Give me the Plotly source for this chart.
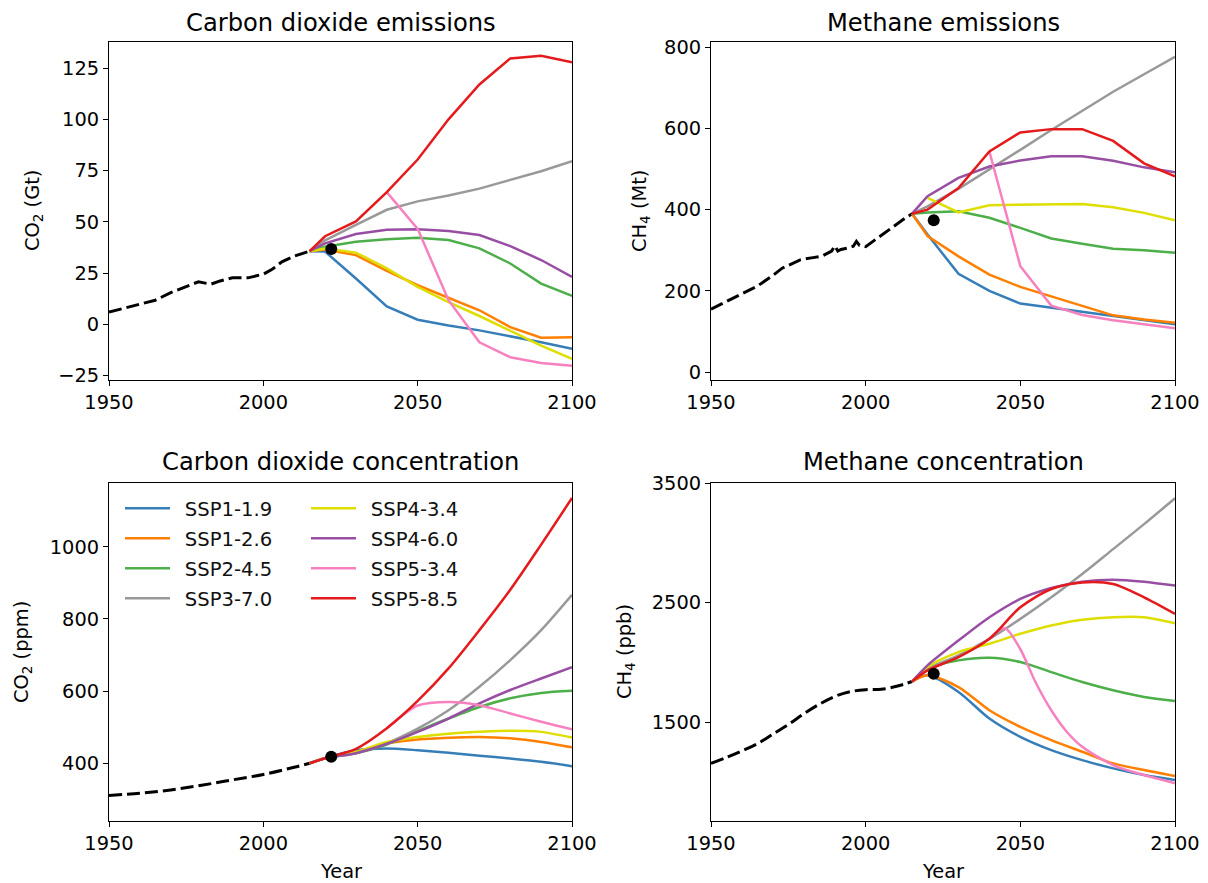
import plotly.graph_objects as go

# page body has an 8px margin: figure is drawn 8px in, so size it to fit
OFF = 8
W, H = 1208 - OFF, 883 - OFF
FONT = "DejaVu Sans"
TICK = 19.4
TITLE = 24.2

scenarios = ["SSP1-1.9", "SSP1-2.6", "SSP2-4.5", "SSP3-7.0",
             "SSP4-3.4", "SSP4-6.0", "SSP5-3.4", "SSP5-8.5"]
colors = ["#377eb8", "#ff7f00", "#4daf4a", "#999999",
          "#dede00", "#984ea3", "#f781bf", "#e41a1c"]

# ---------------- CO2 emissions (Gt) ----------------
co2e_hist_years = [1950, 1955, 1960, 1965, 1970, 1975, 1979, 1983, 1986, 1990,
                   1995, 2000, 2003, 2006, 2010, 2015]
co2e_hist = [6.0, 8.0, 9.8, 11.8, 15.5, 18.3, 20.8, 19.6, 21.2, 22.7,
             22.7, 24.5, 27.0, 30.5, 33.3, 35.7]
scen_years = [2015, 2020, 2030, 2040, 2050, 2060, 2070, 2080, 2090, 2100]
co2e = {
    "SSP1-1.9": [35.7, 35.5, 22.4, 8.8, 2.3, -0.5, -2.9, -5.7, -8.7, -11.9],
    "SSP1-2.6": [35.7, 36.5, 33.8, 26.1, 19.1, 12.9, 6.9, -1.3, -6.5, -6.2],
    "SSP2-4.5": [35.7, 37.9, 40.3, 41.5, 42.3, 41.2, 37.1, 29.7, 19.9, 13.9],
    "SSP3-7.0": [35.7, 41.0, 48.5, 55.9, 60.0, 62.9, 66.2, 70.3, 74.7, 79.6],
    "SSP4-3.4": [35.7, 37.0, 35.0, 27.3, 18.3, 10.9, 4.1, -2.9, -10.3, -16.8],
    "SSP4-6.0": [35.7, 39.5, 44.1, 46.1, 46.4, 45.6, 43.6, 38.2, 31.4, 23.2],
    "SSP5-3.4": [None, None, None, 64.5, 46.6, 11.8, -8.7, -16.0, -18.8, -20.1],
    "SSP5-8.5": [35.7, 43.0, 50.2, 64.5, 80.4, 100.0, 117.0, 129.7, 131.0, 127.8],
}
co2e_now = (2022, 36.8)

# ---------------- CH4 emissions (Mt) ----------------
ch4e_hist_years = [1950, 1955, 1960, 1965, 1970, 1973, 1976, 1979, 1983, 1986,
                   1989, 1990, 1991, 1992, 1994, 1996, 1997, 1998, 2000, 2003,
                   2006, 2009, 2012, 2015]
ch4e_hist = [155, 175, 193, 212, 238, 256, 266, 277, 282, 286,
             298, 311, 298, 302, 305, 310, 322, 312, 309, 326,
             343, 360, 375, 390]
ch4e = {
    "SSP1-1.9": [390, 339, 242, 200, 169, 159, 149, 138, 128, 118],
    "SSP1-2.6": [390, 335, 285, 240, 210, 187, 163, 140, 130, 122],
    "SSP2-4.5": [390, 393, 396, 380, 355, 329, 316, 304, 300, 294],
    "SSP3-7.0": [390, 408, 451, 498, 547, 596, 643, 690, 733, 776],
    "SSP4-3.4": [None, 429, 393, 411, 412, 414, 414, 406, 392, 374],
    "SSP4-6.0": [390, 433, 478, 506, 521, 531, 531, 520, 504, 492],
    "SSP5-3.4": [None, None, None, 543, 261, 164, 141, 128, 118, 108],
    "SSP5-8.5": [390, 400, 453, 543, 590, 598, 598, 569, 514, 482],
}
ch4e_now = (2022, 374)

# ---------------- CO2 concentration (ppm) ----------------
co2c_hist_years = [1950, 1960, 1970, 1980, 1990, 2000, 2010, 2015]
co2c_hist = [311, 317, 326, 339, 354, 369, 389, 400]
co2c = {
    "SSP1-1.9": [400, 414, 436, 441, 436, 429, 421, 413, 404, 392],
    "SSP1-2.6": [400, 414, 431, 455, 466, 471, 473, 469, 459, 444],
    "SSP2-4.5": [400, 414, 428, 452, 489, 524, 556, 580, 595, 601],
    "SSP3-7.0": [400, 414, 430, 456, 496, 547, 612, 686, 769, 867],
    "SSP4-3.4": [400, 414, 431, 459, 473, 482, 487, 490, 487, 471],
    "SSP4-6.0": [400, 414, 428, 454, 487, 524, 566, 603, 635, 666],
    "SSP5-3.4": [None, None, None, 497, 560, 570, 561, 538, 515, 494],
    "SSP5-8.5": [400, 414, 440, 497, 573, 663, 769, 881, 1006, 1135],
}
co2c_now = (2022, 418)

# ---------------- CH4 concentration (ppb) ----------------
ch4c_hist_years = [1950, 1955, 1960, 1965, 1970, 1975, 1980, 1985, 1990, 1995,
                   2000, 2005, 2010, 2015]
ch4c_hist = [1155, 1205, 1260, 1320, 1400, 1480, 1570, 1650, 1715, 1755,
             1772, 1775, 1800, 1840]
ch4c_years_pink = [2040, 2045, 2050, 2055, 2060, 2065, 2070, 2080, 2090, 2100]
ch4c = {
    "SSP1-1.9": [1840, 1892, 1753, 1531, 1378, 1267, 1183, 1114, 1058, 1017],
    "SSP1-2.6": [1840, 1892, 1794, 1600, 1461, 1350, 1253, 1156, 1100, 1050],
    "SSP2-4.5": [1840, 1947, 2017, 2039, 2003, 1919, 1836, 1767, 1711, 1678],
    "SSP3-7.0": [1840, 1947, 2058, 2197, 2364, 2544, 2739, 2947, 3156, 3372],
    "SSP4-3.4": [1840, 1961, 2086, 2156, 2239, 2308, 2356, 2378, 2378, 2328],
    "SSP4-6.0": [1840, 1975, 2183, 2378, 2531, 2622, 2675, 2692, 2675, 2642],
    "SSP5-3.4": [2200, 2285, 2110, 1830, 1600, 1420, 1294, 1142, 1058, 989],
    "SSP5-8.5": [1840, 1933, 2044, 2197, 2461, 2614, 2669, 2656, 2544, 2406],
}
ch4c_now = (2022, 1906)

# ---------------- figure ----------------
def px(X):
    return (X - OFF) / W

def py(Y):
    return 1 - (Y - OFF) / H

def dom_x(a, b):
    return [px(a), px(b)]

def dom_y(top, bottom):
    return [py(bottom), py(top)]

panels = [
    dict(ax="", hist=(co2e_hist_years, co2e_hist), scen=co2e, now=co2e_now,
         xd=dom_x(109, 572), yd=dom_y(42, 380), yr=[-27.1, 137.7],
         tv=[-25, 0, 25, 50, 75, 100, 125], spline=False, sy=None),
    dict(ax="2", hist=(ch4e_hist_years, ch4e_hist), scen=ch4e, now=ch4e_now,
         xd=dom_x(711, 1175), yd=dom_y(42, 380), yr=[-19, 812.3],
         tv=[0, 200, 400, 600, 800], spline=False, sy=None),
    dict(ax="3", hist=(co2c_hist_years, co2c_hist), scen=co2c, now=co2c_now,
         xd=dom_x(109, 572), yd=dom_y(483, 821), yr=[240, 1176.7],
         tv=[400, 600, 800, 1000], spline=True, sy=None),
    dict(ax="4", hist=(ch4c_hist_years, ch4c_hist), scen=ch4c, now=ch4c_now,
         xd=dom_x(711, 1175), yd=dom_y(483, 821), yr=[674, 3500],
         tv=[1500, 2500, 3500], spline=True, sy="pink"),
]

fig = go.Figure()

for pi, p in enumerate(panels):
    xa = "x" + p["ax"]
    ya = "y" + p["ax"]
    shape = "spline" if p["spline"] else "linear"
    hx, hy = p["hist"]
    fig.add_trace(go.Scatter(x=hx, y=hy, mode="lines", xaxis=xa, yaxis=ya,
                             line=dict(color="black", width=3, dash="13px,5px", shape=shape),
                             showlegend=False, hoverinfo="skip"))
    for si, s in enumerate(scenarios):
        yrs = scen_years
        if p["sy"] == "pink" and s == "SSP5-3.4":
            yrs = ch4c_years_pink
        xs = [x for x, v in zip(yrs, p["scen"][s]) if v is not None]
        vs = [v for v in p["scen"][s] if v is not None]
        show = pi == 0
        fig.add_trace(go.Scatter(
            x=xs, y=vs, mode="lines", name="\u2002" + s, xaxis=xa, yaxis=ya,
            line=dict(color=colors[si], width=2.5, shape=shape, smoothing=0.8),
            legendgroup=s, showlegend=show,
            legend="legend" if si < 4 else "legend2",
        ))
    fig.add_trace(go.Scatter(x=[p["now"][0]], y=[p["now"][1]], mode="markers",
                             xaxis=xa, yaxis=ya,
                             marker=dict(color="black", size=12),
                             showlegend=False, hoverinfo="skip"))

axis_common = dict(showgrid=False, zeroline=False, showline=True, linecolor="black",
                   linewidth=1.1, mirror=True, ticks="outside", ticklen=5,
                   tickwidth=1.1, tickcolor="black", automargin=False,
                   tickfont=dict(family=FONT, size=TICK, color="black"))

layout = dict(width=W, height=H, margin=dict(l=0, r=0, t=0, b=0, autoexpand=False),
              paper_bgcolor="white", plot_bgcolor="white",
              font=dict(family=FONT, color="black"))
for p in panels:
    layout["xaxis" + p["ax"]] = dict(domain=p["xd"], range=[1950, 2100],
                                     tickvals=[1950, 2000, 2050, 2100],
                                     anchor="y" + p["ax"], **axis_common)
    layout["yaxis" + p["ax"]] = dict(domain=p["yd"], range=p["yr"],
                                     tickvals=p["tv"],
                                     anchor="x" + p["ax"], **axis_common)

leg_common = dict(font=dict(family=FONT, size=19.6, color="#111111"),
                  bgcolor="rgba(0,0,0,0)", borderwidth=0, itemwidth=45,
                  xanchor="left", yanchor="top", tracegroupgap=1.5,
                  orientation="v")
layout["legend"] = dict(x=px(120), y=py(489), **leg_common)
layout["legend2"] = dict(x=px(306), y=py(489), **leg_common)
fig.update_layout(**layout)

def ann(text, x, y, size, angle=0):
    fig.add_annotation(text=text, x=px(x), y=py(y), xref="paper", yref="paper",
                       showarrow=False, textangle=angle, xanchor="center",
                       yanchor="middle", borderpad=0,
                       font=dict(family=FONT, size=size, color="black"))

ann("Carbon dioxide emissions", 340.5, 23, TITLE)
ann("Methane emissions", 943, 23, TITLE)
ann("Carbon dioxide concentration", 340.5, 462, TITLE)
ann("Methane concentration", 943, 462, TITLE)
ann("CO<sub>2</sub> (Gt)", 33, 211, TICK, -90)
ann("CH<sub>4</sub> (Mt)", 640, 211, TICK, -90)
ann("CO<sub>2</sub> (ppm)", 22, 652, TICK, -90)
ann("CH<sub>4</sub> (ppb)", 625, 652, TICK, -90)
ann("Year", 340.5, 871, TICK)
ann("Year", 943, 871, TICK)

fig.write_html("out.html")
